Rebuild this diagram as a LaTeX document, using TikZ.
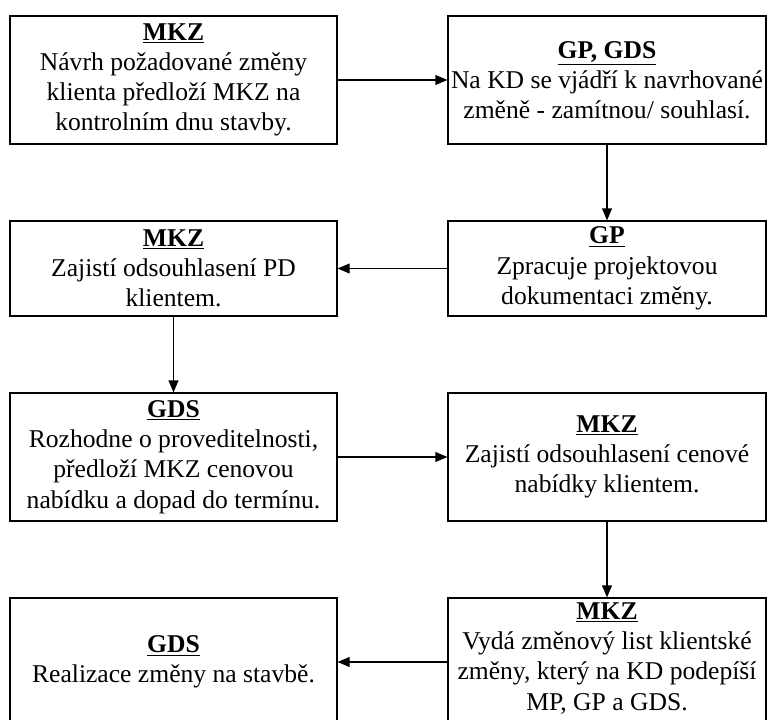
\documentclass[tikz,border=0pt]{standalone}
\usepackage{fontspec}
\setmainfont{Liberation Serif}
\usetikzlibrary{arrows.meta,positioning}

\newcommand{\who}[1]{\underline{\textbf{#1}}}

\begin{document}
\begin{tikzpicture}[
  x=0.025cm, y=-0.025cm,
  >={Triangle[length=8.5pt,width=7pt]},
  every node/.style={font=\fontsize{18.2}{21.5}\selectfont},
  box/.style={draw, line width=0.8pt, align=center, inner xsep=0pt, inner ysep=2pt},
  leftbox/.style={box, minimum width=8.175cm},
  rightbox/.style={box, minimum width=7.95cm},
  link/.style={->, line width=0.8pt},
]
\useasboundingbox (0, 0) rectangle (768, 720);

% Row 1
\node[leftbox, minimum height=3.2cm] (mkzNavrh) at (173.5, 80)
  {\who{MKZ}\\Návrh požadované změny\\klienta předloží MKZ na\\kontrolním dnu stavby.};
\node[rightbox, minimum height=3.2cm] (gpVyjadri) at (607, 80)
  {\who{GP, GDS}\\Na KD se vjádří k navrhované\\změně - zamítnou/ souhlasí.};

% Row 2
\node[leftbox, minimum height=2.375cm] (mkzPD) at (173.5, 268.5)
  {\who{MKZ}\\Zajistí odsouhlasení PD\\klientem.};
\node[rightbox, minimum height=2.375cm] (gpPD) at (607, 268.5)
  {\who{GP}\\Zpracuje projektovou\\dokumentaci změny.};

% Row 3
\node[leftbox, minimum height=3.2cm] (gdsNabidka) at (173.5, 457)
  {\who{GDS}\\Rozhodne o proveditelnosti,\\předloží MKZ cenovou\\nabídku a dopad do termínu.};
\node[rightbox, minimum height=3.2cm] (mkzCena) at (607, 457)
  {\who{MKZ}\\Zajistí odsouhlasení cenové\\nabídky klientem.};

% Row 4 (cut off at the bottom)
\node[leftbox, minimum height=3.2cm] (gdsRealizace) at (173.5, 662)
  {\who{GDS}\\Realizace změny na stavbě.};
\node[rightbox, minimum height=3.2cm, text depth=0.28cm] (mkzList) at (607, 662)
  {\who{MKZ}\\Vydá změnový list klientské\\změny, který na KD podepíší\\MP, GP a GDS.};

% Connectors
\draw[link] (mkzNavrh) -- (mkzNavrh -| gpVyjadri.west);
\draw[link] (gpVyjadri) -- (gpPD);
\draw[link] (gpPD) -- (mkzPD);
\draw[link] (mkzPD) -- (gdsNabidka);
\draw[link] (gdsNabidka) -- (mkzCena);
\draw[link] (mkzCena) -- (mkzCena |- mkzList.north);
\draw[link] (mkzList.west |- gdsRealizace) -- (gdsRealizace);
\end{tikzpicture}
\end{document}
